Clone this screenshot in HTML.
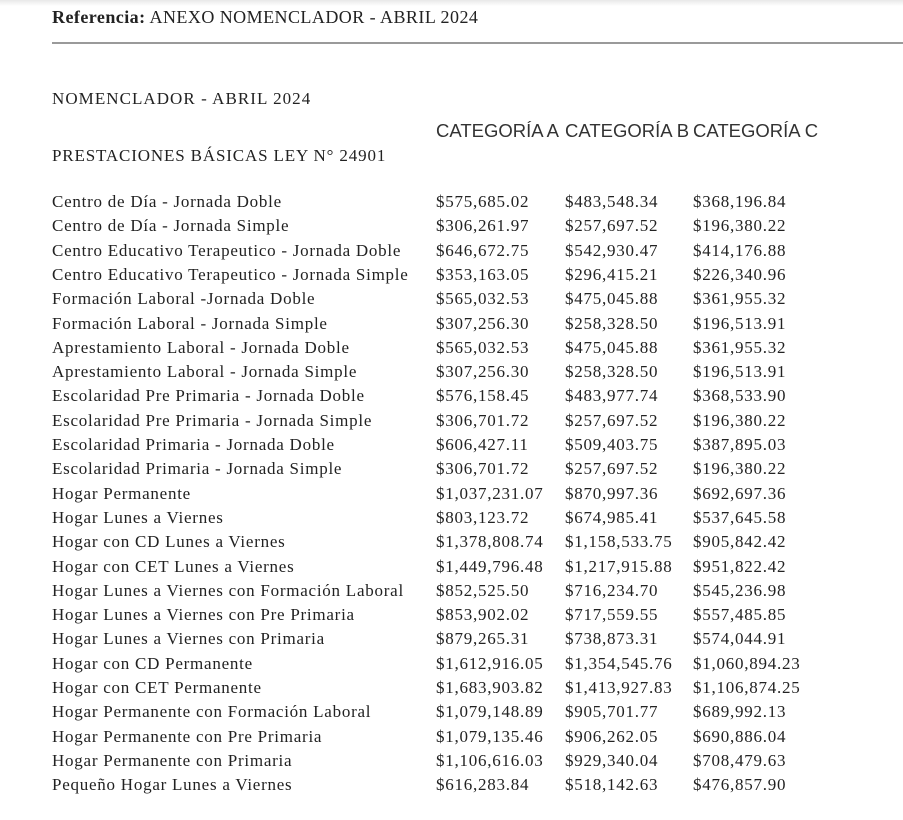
<!DOCTYPE html>
<html><head><meta charset="utf-8"><style>
body{margin:0;width:903px;height:820px;background:#fff;position:relative;overflow:hidden;font-family:"Liberation Serif",serif;color:#222;}
.top{position:absolute;left:0;top:0;width:903px;height:6px;background:linear-gradient(#e8e8e8,#fff);}
.ref{position:absolute;left:52px;top:7px;font-size:18px;letter-spacing:0.45px;}
.hr{position:absolute;left:52px;top:42px;width:851px;height:2px;background:#9a9a9a;}
.t{position:absolute;font-size:17px;letter-spacing:0.85px;white-space:nowrap;}
.cat{position:absolute;top:120px;font-family:"Liberation Sans",sans-serif;font-size:18.5px;letter-spacing:0px;color:#333;white-space:nowrap;}
.rows{position:absolute;left:0;top:192px;}
.r{position:absolute;height:24px;font-size:17px;letter-spacing:0.75px;white-space:nowrap;}
.r span{position:absolute;top:0;}
</style></head><body>
<div class="top"></div>
<div class="ref"><b>Referencia:</b> ANEXO NOMENCLADOR - ABRIL 2024</div>
<div class="hr"></div>
<div class="t" style="left:52px;top:89px;letter-spacing:1.05px">NOMENCLADOR - ABRIL 2024</div>
<div class="cat" style="left:436px">CATEGORÍA A</div>
<div class="cat" style="left:565px">CATEGORÍA B</div>
<div class="cat" style="left:693px">CATEGORÍA C</div>
<div class="t" style="left:52px;top:146px">PRESTACIONES BÁSICAS LEY N° 24901</div>
<div class="rows" id="rows">
<div class="r" style="top:0px"><span style="left:52px">Centro de Día - Jornada Doble</span><span style="left:436px">$575,685.02</span><span style="left:565px">$483,548.34</span><span style="left:693px">$368,196.84</span></div>
<div class="r" style="top:24.3px"><span style="left:52px">Centro de Día - Jornada Simple</span><span style="left:436px">$306,261.97</span><span style="left:565px">$257,697.52</span><span style="left:693px">$196,380.22</span></div>
<div class="r" style="top:48.6px"><span style="left:52px">Centro Educativo Terapeutico - Jornada Doble</span><span style="left:436px">$646,672.75</span><span style="left:565px">$542,930.47</span><span style="left:693px">$414,176.88</span></div>
<div class="r" style="top:72.9px"><span style="left:52px">Centro Educativo Terapeutico - Jornada Simple</span><span style="left:436px">$353,163.05</span><span style="left:565px">$296,415.21</span><span style="left:693px">$226,340.96</span></div>
<div class="r" style="top:97.2px"><span style="left:52px">Formación Laboral -Jornada Doble</span><span style="left:436px">$565,032.53</span><span style="left:565px">$475,045.88</span><span style="left:693px">$361,955.32</span></div>
<div class="r" style="top:121.5px"><span style="left:52px">Formación Laboral - Jornada Simple</span><span style="left:436px">$307,256.30</span><span style="left:565px">$258,328.50</span><span style="left:693px">$196,513.91</span></div>
<div class="r" style="top:145.8px"><span style="left:52px">Aprestamiento Laboral - Jornada Doble</span><span style="left:436px">$565,032.53</span><span style="left:565px">$475,045.88</span><span style="left:693px">$361,955.32</span></div>
<div class="r" style="top:170.1px"><span style="left:52px">Aprestamiento Laboral - Jornada Simple</span><span style="left:436px">$307,256.30</span><span style="left:565px">$258,328.50</span><span style="left:693px">$196,513.91</span></div>
<div class="r" style="top:194.4px"><span style="left:52px">Escolaridad Pre Primaria - Jornada Doble</span><span style="left:436px">$576,158.45</span><span style="left:565px">$483,977.74</span><span style="left:693px">$368,533.90</span></div>
<div class="r" style="top:218.7px"><span style="left:52px">Escolaridad Pre Primaria - Jornada Simple</span><span style="left:436px">$306,701.72</span><span style="left:565px">$257,697.52</span><span style="left:693px">$196,380.22</span></div>
<div class="r" style="top:243px"><span style="left:52px">Escolaridad Primaria - Jornada Doble</span><span style="left:436px">$606,427.11</span><span style="left:565px">$509,403.75</span><span style="left:693px">$387,895.03</span></div>
<div class="r" style="top:267.3px"><span style="left:52px">Escolaridad Primaria - Jornada Simple</span><span style="left:436px">$306,701.72</span><span style="left:565px">$257,697.52</span><span style="left:693px">$196,380.22</span></div>
<div class="r" style="top:291.6px"><span style="left:52px">Hogar Permanente</span><span style="left:436px">$1,037,231.07</span><span style="left:565px">$870,997.36</span><span style="left:693px">$692,697.36</span></div>
<div class="r" style="top:315.9px"><span style="left:52px">Hogar Lunes a Viernes</span><span style="left:436px">$803,123.72</span><span style="left:565px">$674,985.41</span><span style="left:693px">$537,645.58</span></div>
<div class="r" style="top:340.2px"><span style="left:52px">Hogar con CD Lunes a Viernes</span><span style="left:436px">$1,378,808.74</span><span style="left:565px">$1,158,533.75</span><span style="left:693px">$905,842.42</span></div>
<div class="r" style="top:364.5px"><span style="left:52px">Hogar con CET Lunes a Viernes</span><span style="left:436px">$1,449,796.48</span><span style="left:565px">$1,217,915.88</span><span style="left:693px">$951,822.42</span></div>
<div class="r" style="top:388.8px"><span style="left:52px">Hogar Lunes a Viernes con Formación Laboral</span><span style="left:436px">$852,525.50</span><span style="left:565px">$716,234.70</span><span style="left:693px">$545,236.98</span></div>
<div class="r" style="top:413.1px"><span style="left:52px">Hogar Lunes a Viernes con Pre Primaria</span><span style="left:436px">$853,902.02</span><span style="left:565px">$717,559.55</span><span style="left:693px">$557,485.85</span></div>
<div class="r" style="top:437.4px"><span style="left:52px">Hogar Lunes a Viernes con Primaria</span><span style="left:436px">$879,265.31</span><span style="left:565px">$738,873.31</span><span style="left:693px">$574,044.91</span></div>
<div class="r" style="top:461.7px"><span style="left:52px">Hogar con CD Permanente</span><span style="left:436px">$1,612,916.05</span><span style="left:565px">$1,354,545.76</span><span style="left:693px">$1,060,894.23</span></div>
<div class="r" style="top:486px"><span style="left:52px">Hogar con CET Permanente</span><span style="left:436px">$1,683,903.82</span><span style="left:565px">$1,413,927.83</span><span style="left:693px">$1,106,874.25</span></div>
<div class="r" style="top:510.3px"><span style="left:52px">Hogar Permanente con Formación Laboral</span><span style="left:436px">$1,079,148.89</span><span style="left:565px">$905,701.77</span><span style="left:693px">$689,992.13</span></div>
<div class="r" style="top:534.6px"><span style="left:52px">Hogar Permanente con Pre Primaria</span><span style="left:436px">$1,079,135.46</span><span style="left:565px">$906,262.05</span><span style="left:693px">$690,886.04</span></div>
<div class="r" style="top:558.9px"><span style="left:52px">Hogar Permanente con Primaria</span><span style="left:436px">$1,106,616.03</span><span style="left:565px">$929,340.04</span><span style="left:693px">$708,479.63</span></div>
<div class="r" style="top:583.2px"><span style="left:52px">Pequeño Hogar Lunes a Viernes</span><span style="left:436px">$616,283.84</span><span style="left:565px">$518,142.63</span><span style="left:693px">$476,857.90</span></div>
</div>
</body></html>
